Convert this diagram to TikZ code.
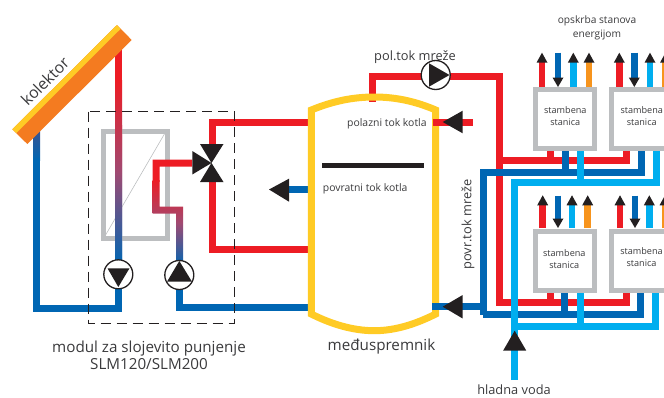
\documentclass[tikz,border=0pt]{standalone}
\usepackage{fontspec}
\setmainfont{Open Sans}
\definecolor{cred}{HTML}{ED1C24}
\definecolor{cblue}{HTML}{0066B3}
\definecolor{clblue}{HTML}{00AEEF}
\definecolor{corange}{HTML}{F7941D}
\definecolor{ccoll}{HTML}{F47B20}
\definecolor{cyel}{HTML}{FFCB25}
\definecolor{cgray}{HTML}{BCBEC0}
\definecolor{cblack}{HTML}{231F20}
\definecolor{ctext}{HTML}{3A3A3C}
\definecolor{cmid}{HTML}{A04A72}
\tikzset{
  pipe/.style={line width=7pt,miter limit=10},
  red pipe/.style={pipe,draw=cred},
  blue pipe/.style={pipe,draw=cblue},
  lblue pipe/.style={pipe,draw=clblue},
  tip/.style={fill=cblack,draw=none},
  grad/.style={top color=cred,bottom color=cblue,middle color=cmid},
  pumpc/.style={circle,draw=cblack,line width=1.3pt,fill=white,minimum size=29pt,inner sep=0pt},
  station/.style={draw=cgray,line width=5pt,fill=white,minimum width=59pt,minimum height=59pt,inner sep=0pt},
  stxt/.style={font=\fontsize{9.1}{12}\selectfont,text=ctext,align=center},
  lbl/.style={text=ctext,inner sep=0pt,align=center},
}
% up arrow: x, base y (station top), tip y, colour
\newcommand{\uparr}[4]{%
  \draw[line width=6.8pt,draw=#4] (#1,#2) -- (#1,#3+9);
  \fill[tip] (#1,#3) -- (#1+5.5,#3+10) -- (#1-5.5,#3+10) -- cycle;}
% down arrow: x, top y, base y of the head
\newcommand{\downarr}[3]{%
  \draw[line width=6.8pt,draw=cblue] (#1,#2) -- (#1,#3+1);
  \fill[tip] (#1-5.5,#3) -- (#1+5.5,#3) -- (#1,#3+9.5) -- cycle;}
\begin{document}
\begin{tikzpicture}[x=1pt,y=-1pt]
\useasboundingbox (0,0) rectangle (664,397);
\clip (0,0) rectangle (664,397);

% solar loop
\shade[top color=cblue!75!cred,bottom color=cblue,shading angle=0] (33.2,130) rectangle (40.2,160);
\draw[blue pipe] (36.7,158) -- (36.7,308) -- (118.3,308) -- (118.3,285);

% collector
\fill[cred] (115,42) rectangle (122,82);
\shade[grad] (115,80) rectangle (122,264);
\fill[ccoll] (117,25) -- (131.7,40) -- (27.3,144) -- (12.3,129.3) -- cycle;
\fill[cyel] (117,25) -- (120.5,29) -- (16.3,133) -- (12.3,129.3) -- cycle;

% exchanger
\draw[cgray,line width=5pt] (103,131) rectangle (167,238.5);
\draw[cgray,line width=.6pt] (165,133) -- (105,236);
\begin{scope}
  \clip (115,125) rectangle (122,264);
  \shade[grad] (115,80) rectangle (122,264);
\end{scope}

% secondary branch with gradient
\begin{scope}
  \clip (192,159.5) -- (152.5,159.5) -- (152.5,213.5) -- (176,213.5) -- (176,264) -- (183,264) -- (183,206.5) -- (159.5,206.5) -- (159.5,166.5) -- (192,166.5) -- cycle;
  \fill[cred] (150,155) rectangle (195,182);
  \shade[grad] (150,180) rectangle (195,266);
\end{scope}
\draw[blue pipe] (179.5,285) -- (179.5,307.5) -- (312,307.5);

% valve loop
\draw[red pipe] (212,145) -- (212,122.5) -- (312,122.5);
\draw[red pipe] (212,180) -- (212,249) -- (312,249);
\coordinate (v) at (211.5,163);
\fill[tip] (v) -- (200,144) -- (223.5,144) -- cycle;
\fill[tip] (v) -- (200,182) -- (223.5,182) -- cycle;
\fill[tip] (v) -- (192.3,151) -- (192.3,174.5) -- cycle;

% pumps
\node[pumpc] (p1) at (118.3,274.3) {};
\fill[tip] (107.5,268.3) -- (129.5,268.3) -- (118.3,287) -- cycle;
\node[pumpc] (p2) at (179.3,275) {};
\fill[tip] (167,281.7) -- (192,281.7) -- (179.3,261) -- cycle;

% dashed module frame
\draw[cblack,line width=1.4pt,dash pattern=on 10pt off 6pt] (88.3,111.7) rectangle (234.3,323.3);

% tank pipes (behind tank)
\draw[red pipe] (372,102) -- (372,76) -- (499.3,76) -- (499.3,302) -- (626,302) -- (626,290);
\draw[red pipe] (499.3,160) -- (626,160) -- (626,149);
\draw[red pipe] (550,160) -- (550,149);
\draw[red pipe] (550,302) -- (550,290);
\draw[red pipe] (432,122) -- (473,122);
\draw[blue pipe] (315,189.3) -- (285,189.3);
\fill[tip] (269,189.5) -- (289,178.7) -- (289,201.7) -- cycle;

% tank
\draw[cyel,line width=7pt,miter limit=10,fill=none]
  (311.3,110) .. controls (332,101.5) and (352,97) .. (374.3,97)
  .. controls (396,97) and (416,101.5) .. (435.7,110)
  -- (435.7,314) .. controls (417,323.5) and (396,330.7) .. (374.3,330.7)
  .. controls (352,330.7) and (330,323.5) .. (311.3,314) -- cycle;
\fill[cblack] (322,162.5) rectangle (424.3,167.5);
\draw[red pipe] (432.5,122) -- (470,122);
\fill[tip] (442.7,122) -- (462.7,110.7) -- (462.7,133.3) -- cycle;

% top pump
\node[pumpc] (p3) at (435.7,75) {};
\fill[tip] (429,63.3) -- (449.5,75) -- (429,86.7) -- cycle;

% return network
\draw[blue pipe] (432,306.7) -- (483.3,306.7);
\draw[blue pipe] (565,149) -- (565,172.5);
\draw[blue pipe] (483.3,314.7) -- (483.3,172.5) -- (641,172.5) -- (641,149);
\draw[blue pipe] (483.3,314.7) -- (640.7,314.7) -- (640.7,290);
\draw[blue pipe] (564.7,290) -- (564.7,314.7);
\fill[tip] (442.7,306.7) -- (462.7,295) -- (462.7,318.5) -- cycle;

% cold water
\draw[lblue pipe] (514.7,380) -- (514.7,182.7) -- (656.5,182.7) -- (656.5,149);
\draw[lblue pipe] (580,149) -- (580,182.7);
\draw[lblue pipe] (514.7,326.7) -- (655,326.7) -- (655,290);
\draw[lblue pipe] (580,290) -- (580,326.7);
\fill[tip] (514.7,330.7) -- (526.2,350.5) -- (503.2,350.5) -- cycle;

% stations
\node[station,stxt] (s1) at (565.3,119.3) {};
\node[stxt] (s1t) at (565.3,116) {stambena\\stanica};
\node[station,stxt] (s2) at (641.3,119.3) {};
\node[stxt] (s2t) at (641.7,116) {stambena\\stanica};
\node[station,stxt] (s3) at (565,260.5) {};
\node[stxt] (s3t) at (564.3,258.7) {stambena\\stanica};
\node[station,stxt] (s4) at (641.3,260.5) {};
\node[stxt] (s4t) at (641.5,257) {stambena\\stanica};

% flat arrows
\uparr{542}{87}{52.7}{cred}
\downarr{558}{52.7}{77.5}
\uparr{573.3}{87}{52.7}{clblue}
\uparr{589}{87}{52.7}{corange}
\uparr{619.3}{87}{52.7}{cred}
\downarr{634.3}{52.7}{77.5}
\uparr{650}{87}{52.7}{clblue}
\uparr{665.5}{87}{52.7}{corange}
\uparr{542.7}{228}{195.3}{cred}
\downarr{558}{195.5}{218.5}
\uparr{572}{228}{195.3}{clblue}
\uparr{587.7}{228}{195.3}{corange}
\uparr{620}{228}{195.3}{cred}
\downarr{635}{195.5}{218.5}
\uparr{649.3}{228}{195.3}{clblue}
\uparr{665}{228}{195.3}{corange}

% labels
\node[lbl,rotate=45,font=\fontsize{15.8}{16}\selectfont] (kol) at (45,81) {kolektor};
\node[lbl,font=\fontsize{15.2}{17.3}\selectfont] (mod) at (149,355) {modul za slojevito punjenje\\SLM120/SLM200};
\node[lbl,font=\fontsize{12.8}{13}\selectfont] (pol) at (415,57) {pol.tok mreže};
\node[lbl,anchor=west,font=\fontsize{10.4}{11}\selectfont] (pk) at (347,124) {polazni tok kotla};
\node[lbl,anchor=west,font=\fontsize{10.4}{11}\selectfont] (pv) at (322.7,189) {povratni tok kotla};
\node[lbl,rotate=90,font=\fontsize{12.8}{13}\selectfont] (pt) at (468,224.5) {povr.tok mreže};
\node[lbl,font=\fontsize{15.2}{16}\selectfont] (med) at (381.5,346.5) {međuspremnik};
\node[lbl,font=\fontsize{12.8}{13}\selectfont] (hv) at (514,390) {hladna voda};
\node[lbl,font=\fontsize{10.2}{14}\selectfont] (op) at (597,28) {opskrba stanova\\energijom};
\end{tikzpicture}
\end{document}
